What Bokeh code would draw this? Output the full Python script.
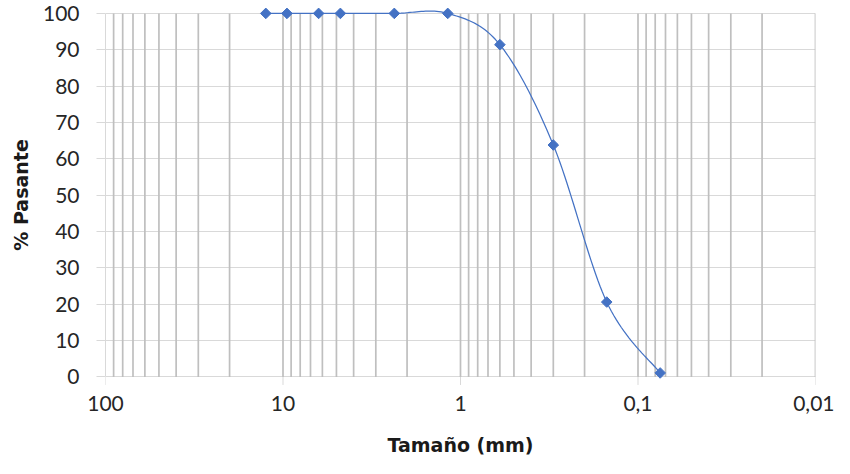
import numpy as np
from bokeh.plotting import figure
from bokeh.models import Range1d, FixedTicker, CustomJSTickFormatter
from bokeh.embed import file_html
from bokeh.resources import INLINE

# ---- data ----
tamano_mm = [12.5, 9.5, 6.3, 4.75, 2.36, 1.18, 0.6, 0.3, 0.15, 0.075]
pasante = [100, 100, 100, 100, 100, 100, 91.4, 63.8, 20.6, 1.1]
x_major_ticks = [100, 10, 1, 0.1, 0.01]
y_ticks = [0, 10, 20, 30, 40, 50, 60, 70, 80, 90, 100]
x_title = "Tamaño (mm)"
y_title = "% Pasante"

BLUE = "#4472C4"
TICK_FONT = "Lato"
TITLE_FONT = "DejaVu Sans"

# minor gridline positions (1..9 x decade)
grid_x = []
for d in [10, 1, 0.1, 0.01]:
    for m in range(1, 10):
        v = d * m
        if v < 100:
            grid_x.append(v)
grid_x = sorted(set(grid_x))

# ---- smoothed line (Excel-like Bezier through data points) ----
lx = np.log10(np.array(tamano_mm, dtype=float))
yy = np.array(pasante, dtype=float)
n = len(lx)
sx, sy = [], []
for i in range(n - 1):
    i0 = max(i - 1, 0)
    i3 = min(i + 2, n - 1)
    p1 = np.array([lx[i], yy[i]])
    p2 = np.array([lx[i + 1], yy[i + 1]])
    p0 = np.array([lx[i0], yy[i0]])
    p3 = np.array([lx[i3], yy[i3]])
    c1 = p1 + (p2 - p0) / 6.0
    c2 = p2 - (p3 - p1) / 6.0
    ts = np.linspace(0, 1, 25) if i == n - 2 else np.linspace(0, 1, 25)[:-1]
    for t in ts:
        b = ((1 - t) ** 3) * p1 + 3 * ((1 - t) ** 2) * t * c1 + 3 * (1 - t) * t * t * c2 + t ** 3 * p2
        sx.append(10 ** b[0])
        sy.append(b[1])

p = figure(width=834, height=458, x_axis_type="log",
           x_range=Range1d(100, 0.01), y_range=Range1d(-2.9, 103.0),
           output_backend="svg", toolbar_location=None,
           min_border_left=105, min_border_right=19,
           min_border_top=2, min_border_bottom=71)
p.outline_line_color = None
p.background_fill_color = "white"

# grids
p.xgrid.grid_line_color = None
p.ygrid.ticker = FixedTicker(ticks=y_ticks)
p.ygrid.grid_line_color = "#d9d9d9"
p.ygrid.grid_line_width = 1

p.segment(x0=grid_x, y0=[0] * len(grid_x), x1=grid_x, y1=[100] * len(grid_x),
          line_color="#bfbfbf", line_width=1.7)
p.segment(x0=x_major_ticks, y0=[0] * len(x_major_ticks), x1=x_major_ticks,
          y1=[-2.2] * len(x_major_ticks), line_color="#d9d9d9", line_width=1)

# curve + markers
p.line(sx, sy, line_color=BLUE, line_width=1.25)
p.scatter(tamano_mm, pasante, marker="square", angle=np.pi / 4, size=7.5,
          fill_color=BLUE, line_color=BLUE, line_width=1)

# axes
xa = p.xaxis[0]
xa.ticker = FixedTicker(ticks=x_major_ticks, minor_ticks=[])
xa.formatter = CustomJSTickFormatter(code="return tick.toString().replace('.', ',');")
xa.axis_line_color = None
xa.major_tick_line_color = None
xa.minor_tick_line_color = None
xa.major_label_standoff = 2
xa.major_label_text_font = TICK_FONT
xa.major_label_text_font_size = "21px"
xa.major_label_text_color = "#262626"
xa.axis_label = x_title
xa.axis_label_text_font = TITLE_FONT
xa.axis_label_text_font_style = "bold"
xa.axis_label_text_font_size = "19px"
xa.axis_label_text_color = "#1a1a1a"
xa.axis_label_standoff = 20

ya = p.yaxis[0]
ya.ticker = FixedTicker(ticks=y_ticks, minor_ticks=[])
ya.bounds = (0, 100)
ya.axis_line_color = "#d9d9d9"
ya.major_tick_line_color = "#d9d9d9"
ya.major_tick_out = 9
ya.major_tick_in = 0
ya.minor_tick_line_color = None
ya.major_label_standoff = 17
ya.major_label_text_font = TICK_FONT
ya.major_label_text_font_size = "21px"
ya.major_label_text_color = "#262626"
ya.axis_label = y_title
ya.axis_label_text_font = TITLE_FONT
ya.axis_label_text_font_style = "bold"
ya.axis_label_text_font_size = "19px"
ya.axis_label_text_color = "#1a1a1a"
ya.axis_label_standoff = 8

open("out.html", "w").write(file_html(p, INLINE))
